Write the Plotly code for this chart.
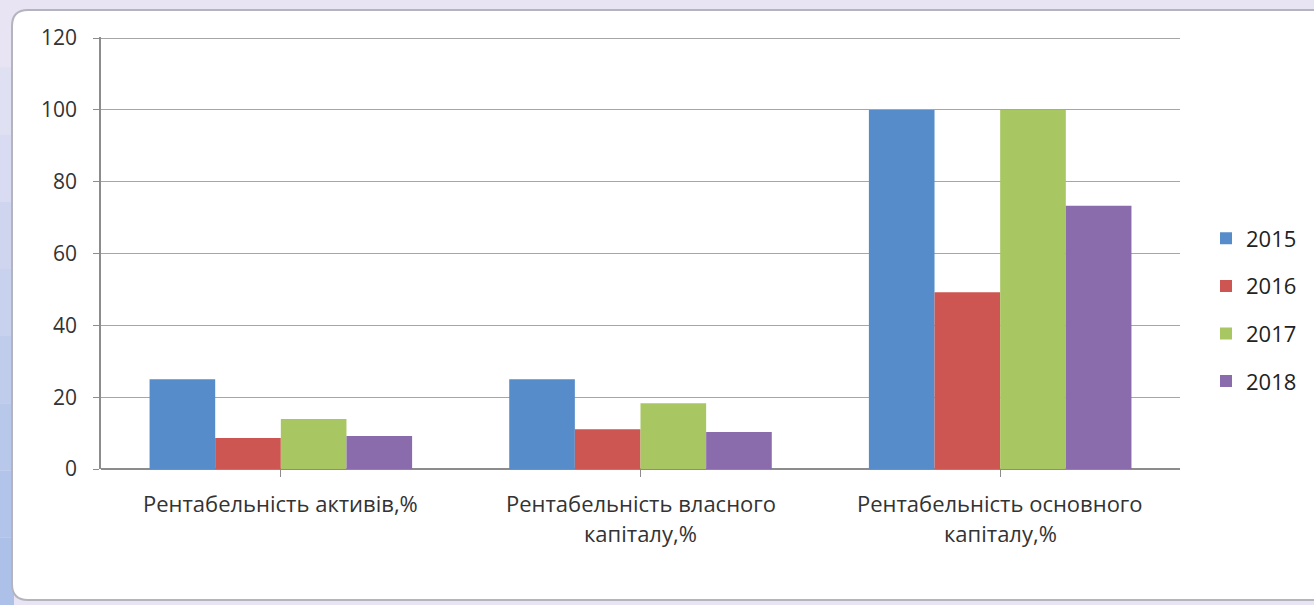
import plotly.graph_objects as go

# data
categories = ["Рентабельність активів,%",
              "Рентабельність власного\nкапіталу,%",
              "Рентабельність основного\nкапіталу,%"]
years = ["2015", "2016", "2017", "2018"]
v2015 = [25.0, 25.0, 100.0]
v2016 = [8.6, 11.1, 49.2]
v2017 = [13.9, 18.3, 100.0]
v2018 = [9.2, 10.3, 73.3]
y_ticks = [0, 20, 40, 60, 80, 100, 120]

colors = ["#578ccb", "#cd5652", "#a8c763", "#8a6cac"]
series = [v2015, v2016, v2017, v2018]

W, H = 1314, 605
L, R, T, B = 101, 1180, 37, 469  # plot area in pixels
pw, ph = R - L, B - T

def px(x):
    return (x - L) / pw

def py(y):
    return (B - y) / ph

fig = go.Figure()
for name, vals, col in zip(years, series, colors):
    fig.add_trace(go.Bar(
        x=list(range(len(categories))), y=vals, name=name,
        marker=dict(color=col, line=dict(width=0)),
        legendgroup=name,
    ))

shapes = []
# bluish fade down the left edge of the slide background
strip = ["#e8e4f4", "#e0e0f3", "#d8dbf1", "#d0d5ef", "#c8d1ee", "#c0ccec",
         "#b8c8ea", "#b2c4e9", "#adc1e8"]
n = len(strip)
for k, c in enumerate(strip):
    shapes.append(dict(type="rect", xref="paper", yref="paper",
                       x0=px(0), x1=px(14), y0=py(H * (k + 1) / n), y1=py(H * k / n),
                       fillcolor=c, line=dict(width=0), layer="below"))

# white rounded card
x0, x1, y0, y1, r = 12, 1330, 10, 600, 16
card = (f"M {px(x0)},{py(y0 + r)} Q {px(x0)},{py(y0)} {px(x0 + r)},{py(y0)} "
        f"L {px(x1)},{py(y0)} L {px(x1)},{py(y1)} L {px(x0 + r)},{py(y1)} "
        f"Q {px(x0)},{py(y1)} {px(x0)},{py(y1 - r)} Z")
shapes.append(dict(type="path", path=card, xref="paper", yref="paper",
                   fillcolor="white", line=dict(color="#b4b4bf", width=2), layer="below"))

annotations = []
for i, cat in enumerate(categories):
    for j, line in enumerate(cat.split("\n")):
        annotations.append(dict(
            x=i, y=py(503 + 30 * j), xref="x", yref="paper", text=line,
            showarrow=False, font=dict(size=22, color="#333333"),
            xanchor="center", yanchor="middle"))

fig.update_layout(
    width=W, height=H,
    margin=dict(l=L, r=W - R, t=T, b=H - B),
    paper_bgcolor="#e8e4f4",
    plot_bgcolor="rgba(0,0,0,0)",
    barmode="group",
    bargap=0.27,
    bargroupgap=0,
    font=dict(family="Open Sans, Liberation Sans, sans-serif", color="#333333"),
    shapes=shapes,
    annotations=annotations,
    legend=dict(x=px(1206), xanchor="left", y=py(310), yanchor="middle",
                font=dict(size=22, color="#222222"), tracegroupgap=16,
                bgcolor="rgba(0,0,0,0)"),
    xaxis=dict(
        tickmode="array", tickvals=list(range(len(categories))),
        ticktext=["" for _ in categories],
        range=[-0.5, len(categories) - 0.5],
        tickson="boundaries", ticks="outside", ticklen=7, tickcolor="#8c8c8c",
        showline=False, showgrid=False, zeroline=False,
    ),
    yaxis=dict(
        range=[0, 120.3], tickvals=y_ticks,
        ticks="outside", ticklen=6, tickcolor="#8c8c8c",
        tickfont=dict(size=21, color="#333333"), ticklabelstandoff=12,
        showline=True, linecolor="#8c8c8c", linewidth=1.5,
        showgrid=True, gridcolor="#a6a6a6", gridwidth=1.2,
        zeroline=True, zerolinecolor="#8c8c8c", zerolinewidth=1.5,
    ),
)

fig.write_html("out.html", config={"displayModeBar": False},
               post_script="document.body.style.margin='0';")
